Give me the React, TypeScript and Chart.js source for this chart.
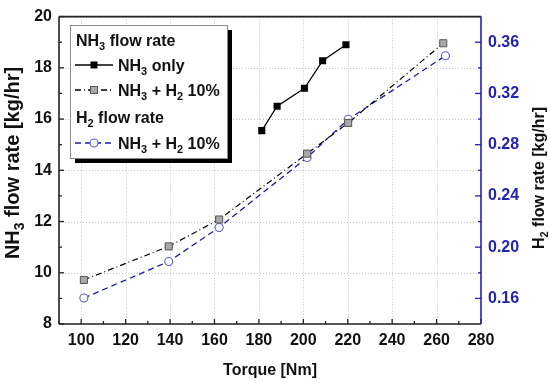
import React, { useEffect, useRef } from "react";
import { Chart, registerables } from "chart.js";

Chart.register(...registerables);

const FONT = '"Liberation Sans", Arial, Helvetica, sans-serif';
const BLUE_AXIS = "#2323b4";
const BLUE_LINE = "#1c1ca0";
const BLUE_MARK = "#5a5acc";

// ---- data ----
const torqueNH3Only = [181.3, 188.2, 200.5, 208.7, 219.2];
const nh3OnlyFlow = [15.55, 16.5, 17.2, 18.28, 18.9];
const torqueBlendNH3 = [101.2, 139.4, 162.1, 201.7, 220.2, 263.0];
const nh3BlendFlow = [9.72, 11.03, 12.08, 14.65, 15.85, 18.96];
const torqueBlendH2 = [101.2, 139.4, 162.1, 201.7, 220.2, 264.0];
const h2BlendFlow = [0.1603, 0.1888, 0.2154, 0.27, 0.2998, 0.3494];

const xTicks = [100, 120, 140, 160, 180, 200, 220, 240, 260, 280];
const xMinorTicks = [90, 110, 130, 150, 170, 190, 210, 230, 250, 270];
const leftTicks = [8, 10, 12, 14, 16, 18, 20];
const leftMinorTicks = [9, 11, 13, 15, 17, 19];
const rightTicks = [0.16, 0.2, 0.24, 0.28, 0.32, 0.36];
const rightMinorTicks = [0.18, 0.22, 0.26, 0.3, 0.34];

type Part = [string, boolean];

const fontOf = (size: number) => `bold ${size}px ${FONT}`;

function richWidth(ctx: CanvasRenderingContext2D, parts: Part[], size = 16, sub = 11) {
  let w = 0;
  for (const [t, s] of parts) {
    ctx.font = fontOf(s ? sub : size);
    w += ctx.measureText(t).width;
  }
  return w;
}

function drawRich(
  ctx: CanvasRenderingContext2D,
  parts: Part[],
  x: number,
  y: number,
  size = 16,
  sub = 11,
  subDy = 4
) {
  let cx = x;
  ctx.textBaseline = "alphabetic";
  ctx.textAlign = "left";
  for (const [t, s] of parts) {
    ctx.font = fontOf(s ? sub : size);
    ctx.fillText(t, cx, s ? y + subDy : y);
    cx += ctx.measureText(t).width;
  }
  return cx;
}

const line = (ctx: CanvasRenderingContext2D, x1: number, y1: number, x2: number, y2: number) => {
  ctx.beginPath();
  ctx.moveTo(x1, y1);
  ctx.lineTo(x2, y2);
  ctx.stroke();
};

const decor = {
  id: "decor",
  beforeDatasetsDraw(chart: any) {
    const { ctx, chartArea: a, scales } = chart;
    ctx.save();
    ctx.strokeStyle = "#c4c4c4";
    ctx.lineWidth = 1;
    ctx.setLineDash([1, 2]);
    for (const v of xTicks) {
      const px = Math.round(scales.x.getPixelForValue(v)) + 0.5;
      line(ctx, px, a.top, px, a.bottom);
    }
    for (const v of leftTicks) {
      const py = Math.round(scales.y.getPixelForValue(v)) + 0.5;
      line(ctx, a.left, py, a.right, py);
    }
    ctx.restore();
  },
  afterDatasetsDraw(chart: any) {
    const { ctx, chartArea: a, scales } = chart;
    ctx.save();
    ctx.setLineDash([]);
    // ticks
    ctx.lineWidth = 1.3;
    ctx.strokeStyle = "#222";
    for (const v of xTicks) {
      const px = scales.x.getPixelForValue(v);
      line(ctx, px, a.bottom, px, a.bottom - 5);
    }
    for (const v of xMinorTicks) {
      const px = scales.x.getPixelForValue(v);
      line(ctx, px, a.bottom, px, a.bottom - 3);
    }
    for (const v of leftTicks) {
      const py = scales.y.getPixelForValue(v);
      line(ctx, a.left, py, a.left + 5, py);
    }
    for (const v of leftMinorTicks) {
      const py = scales.y.getPixelForValue(v);
      line(ctx, a.left, py, a.left + 3, py);
    }
    ctx.strokeStyle = BLUE_AXIS;
    for (const v of rightTicks) {
      const py = scales.y1.getPixelForValue(v);
      line(ctx, a.right, py, a.right - 6, py);
    }
    for (const v of rightMinorTicks) {
      const py = scales.y1.getPixelForValue(v);
      line(ctx, a.right, py, a.right - 3, py);
    }
    // borders
    ctx.lineWidth = 1.6;
    ctx.strokeStyle = "#222";
    line(ctx, a.left, a.top, a.left, a.bottom);
    line(ctx, a.left, a.bottom, a.right, a.bottom);
    line(ctx, a.left, a.top, a.right, a.top);
    ctx.strokeStyle = BLUE_AXIS;
    line(ctx, a.right, a.top, a.right, a.bottom);

    // legend
    const bx = 70, by = 25, bw = 157, bh = 133;
    ctx.fillStyle = "#000";
    ctx.fillRect(bx + 5, by + 5, bw, bh);
    ctx.fillStyle = "#fff";
    ctx.fillRect(bx, by, bw, bh);
    ctx.strokeStyle = "#8a8a8a";
    ctx.lineWidth = 1;
    ctx.strokeRect(bx + 0.5, by + 0.5, bw, bh);

    ctx.fillStyle = "#111";
    drawRich(ctx, [["NH", false], ["3", true], [" flow rate", false]], 76, 46);
    drawRich(ctx, [["NH", false], ["3", true], [" only", false]], 118, 71);
    drawRich(ctx, [["NH", false], ["3", true], [" + H", false], ["2", true], [" 10%", false]], 118, 96);
    drawRich(ctx, [["H", false], ["2", true], [" flow rate", false]], 76, 123);
    drawRich(ctx, [["NH", false], ["3", true], [" + H", false], ["2", true], [" 10%", false]], 118, 149);

    const sx1 = 75, sx2 = 113, mx = 94;
    // entry 1
    ctx.strokeStyle = "#000";
    ctx.lineWidth = 1.3;
    ctx.setLineDash([]);
    line(ctx, sx1, 65, sx2, 65);
    ctx.fillStyle = "#000";
    ctx.fillRect(mx - 3.5, 65 - 3.5, 7, 7);
    // entry 2
    ctx.setLineDash([6, 3, 1, 3]);
    line(ctx, sx1, 90, sx2, 90);
    ctx.setLineDash([]);
    ctx.fillStyle = "#a8a8a8";
    ctx.fillRect(mx - 3.5, 90 - 3.5, 7, 7);
    ctx.strokeStyle = "#555";
    ctx.lineWidth = 1;
    ctx.strokeRect(mx - 3.5, 90 - 3.5, 7, 7);
    // entry 3
    ctx.strokeStyle = BLUE_LINE;
    ctx.lineWidth = 1.3;
    ctx.setLineDash([6, 4]);
    line(ctx, sx1, 143, sx2, 143);
    ctx.setLineDash([]);
    ctx.fillStyle = "#fff";
    ctx.strokeStyle = BLUE_MARK;
    ctx.lineWidth = 1.1;
    ctx.beginPath();
    ctx.arc(mx, 143, 4, 0, Math.PI * 2);
    ctx.fill();
    ctx.stroke();

    // axis titles
    ctx.fillStyle = "#111";
    const xt: Part[] = [["Torque [Nm]", false]];
    const xw = richWidth(ctx, xt);
    drawRich(ctx, xt, (a.left + a.right) / 2 - xw / 2, 375);

    const lt: Part[] = [["NH", false], ["3", true], [" flow rate [kg/hr]", false]];
    const lw = richWidth(ctx, lt, 20, 14);
    ctx.save();
    ctx.translate(19, 163);
    ctx.rotate(-Math.PI / 2);
    drawRich(ctx, lt, -lw / 2, 0, 20, 14, 5);
    ctx.restore();

    const rt: Part[] = [["H", false], ["2", true], [" flow rate [kg/hr]", false]];
    const rw = richWidth(ctx, rt);
    ctx.save();
    ctx.translate(544, 178);
    ctx.rotate(-Math.PI / 2);
    drawRich(ctx, rt, -rw / 2, 0);
    ctx.restore();

    ctx.restore();
  },
};

const tickFont = { family: FONT, size: 16, weight: "bold" as const };

export default function App() {
  const ref = useRef<HTMLCanvasElement>(null);
  useEffect(() => {
    const chart = new Chart(ref.current!, {
      type: "line",
      data: {
        datasets: [
          {
            label: "NH3 only",
            data: torqueNH3Only.map((x, i) => ({ x, y: nh3OnlyFlow[i] })),
            yAxisID: "y",
            borderColor: "#000",
            borderWidth: 1.3,
            pointStyle: "rect",
            pointRadius: 5,
            pointBackgroundColor: "#000",
            pointBorderColor: "#000",
            pointBorderWidth: 0,
            tension: 0,
          },
          {
            label: "NH3 + H2 10%",
            data: torqueBlendNH3.map((x, i) => ({ x, y: nh3BlendFlow[i] })),
            yAxisID: "y",
            borderColor: "#000",
            borderWidth: 1.2,
            borderDash: [6, 3, 1, 3],
            pointStyle: "rect",
            pointRadius: 5,
            pointBackgroundColor: "#a8a8a8",
            pointBorderColor: "#555",
            pointBorderWidth: 1,
            tension: 0,
          },
          {
            label: "H2 NH3 + H2 10%",
            data: torqueBlendH2.map((x, i) => ({ x, y: h2BlendFlow[i] })),
            yAxisID: "y1",
            borderColor: BLUE_LINE,
            borderWidth: 1.3,
            borderDash: [6, 4],
            pointStyle: "circle",
            pointRadius: 4,
            pointBackgroundColor: "#fff",
            pointBorderColor: BLUE_MARK,
            pointBorderWidth: 1.1,
            tension: 0,
          },
        ],
      },
      options: {
        animation: false,
        responsive: false,
        devicePixelRatio: 1,
        layout: { padding: { top: 10, left: 0, right: 0, bottom: 0 } },
        plugins: { legend: { display: false }, tooltip: { enabled: false } },
        scales: {
          x: {
            type: "linear",
            min: 90,
            max: 280,
            afterBuildTicks: (s: any) => {
              s.ticks = xTicks.map((v) => ({ value: v }));
            },
            afterFit: (s: any) => {
              s.height = 59;
            },
            grid: { display: false, drawTicks: false },
            border: { display: false },
            ticks: {
              font: tickFont,
              color: "#111",
              padding: 7,
              maxRotation: 0,
              autoSkip: false,
              callback: (v: any) => String(v),
            },
          },
          y: {
            type: "linear",
            position: "left",
            min: 8,
            max: 20,
            afterBuildTicks: (s: any) => {
              s.ticks = leftTicks.map((v) => ({ value: v }));
            },
            afterFit: (s: any) => {
              s.width = 59;
            },
            grid: { display: false, drawTicks: false },
            border: { display: false },
            ticks: {
              font: tickFont,
              color: "#111",
              padding: 7,
              autoSkip: false,
              callback: (v: any) => String(v),
            },
          },
          y1: {
            type: "linear",
            position: "right",
            min: 0.14,
            max: 0.38,
            afterBuildTicks: (s: any) => {
              s.ticks = rightTicks.map((v) => ({ value: v }));
            },
            afterFit: (s: any) => {
              s.width = 69;
            },
            grid: { display: false, drawTicks: false },
            border: { display: false },
            ticks: {
              font: tickFont,
              color: BLUE_AXIS,
              padding: 7,
              autoSkip: false,
              callback: (v: any) => Number(v).toFixed(2),
            },
          },
        },
      },
      plugins: [decor],
    });
    return () => chart.destroy();
  }, []);
  return (
    <div style={{ position: "fixed", left: 0, top: 0, width: 550, height: 383, background: "#fff" }}>
      <canvas ref={ref} width={550} height={383} style={{ width: 550, height: 383, display: "block" }} />
    </div>
  );
}
